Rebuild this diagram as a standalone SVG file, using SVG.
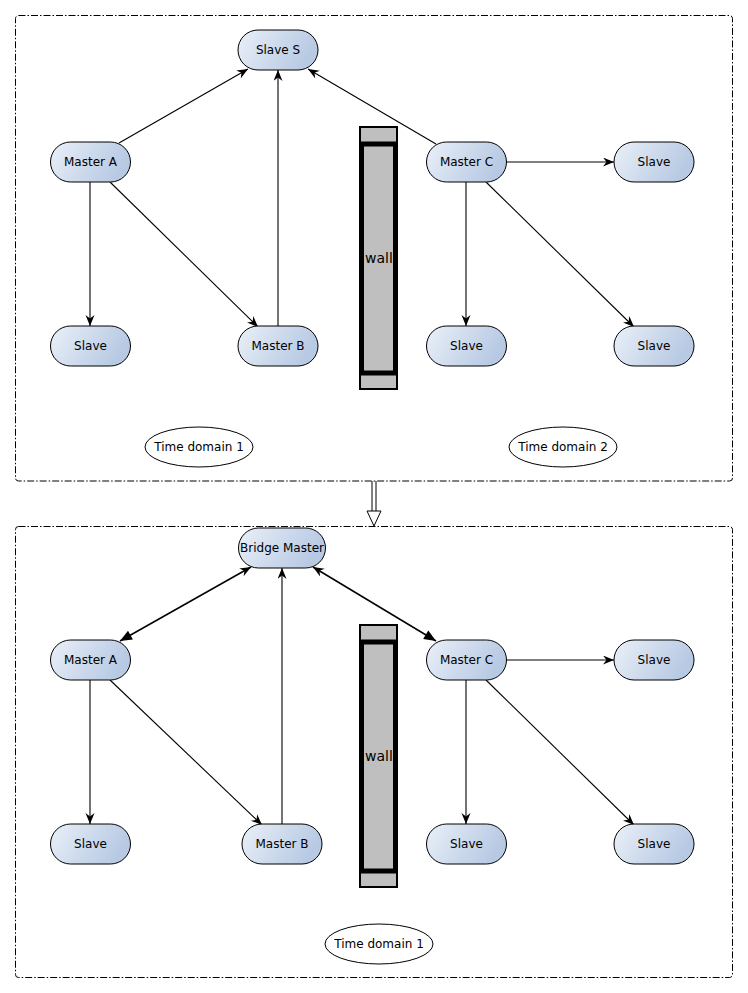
<svg xmlns="http://www.w3.org/2000/svg" width="748" height="993" viewBox="0 0 748 993">
<style>
.frame{fill:none;stroke:#000;stroke-width:1;stroke-dasharray:7,2,1.5,2}
.node rect{fill:url(#g);stroke:#000;stroke-width:1}
.node text,.dom text{font-family:"DejaVu Sans",sans-serif;font-size:12px;text-anchor:middle;dominant-baseline:central;fill:#000}
.dom ellipse{fill:#fff;stroke:#000;stroke-width:1}
.e{fill:none;stroke:#000;stroke-width:1.1;marker-end:url(#a)}
.b{fill:none;stroke:#000;stroke-width:1.5;marker-end:url(#a);marker-start:url(#t)}
.cap{fill:#bfbfbf;stroke:#000;stroke-width:2}
.wallm{fill:#bfbfbf;stroke:#000;stroke-width:5}
.wt{font-family:"DejaVu Sans",sans-serif;font-size:14px;text-anchor:middle;dominant-baseline:central;fill:#000}
</style>
<defs>
<linearGradient id="g" x1="0" y1="0" x2="1" y2="0.3">
<stop offset="0" stop-color="#eaf0f8"/>
<stop offset="1" stop-color="#b7c9e3"/>
</linearGradient>
<marker id="a" markerWidth="13" markerHeight="10" refX="11" refY="4.5" orient="auto" markerUnits="userSpaceOnUse">
<path d="M0,0 L11,4.5 L0,9 L3.5,4.5 z" fill="#000"/>
</marker>
<marker id="t" markerWidth="14" markerHeight="12" refX="0" refY="5" orient="auto" markerUnits="userSpaceOnUse">
<path d="M12,0 L0,5 L12,10 z" fill="#000"/>
</marker>
</defs>
<rect class="frame" x="15.5" y="15.5" width="717" height="465.5" rx="3"/>
<rect class="frame" x="15.5" y="526.5" width="717" height="451" rx="3"/>

<g id="connectors">
<line class="e" x1="119" y1="143" x2="248" y2="69"/>
<line class="e" x1="278" y1="326" x2="278" y2="70"/>
<line class="e" x1="436" y1="144" x2="308" y2="69"/>
<line class="e" x1="90" y1="182" x2="90" y2="326"/>
<line class="e" x1="110" y1="182" x2="258" y2="327"/>
<line class="e" x1="506" y1="162" x2="614" y2="162"/>
<line class="e" x1="466" y1="182" x2="466" y2="326"/>
<line class="e" x1="486" y1="182" x2="634" y2="327"/>

<line class="b" x1="120" y1="641" x2="251" y2="567"/>
<line class="e" x1="282" y1="824" x2="282" y2="568"/>
<line class="b" x1="436" y1="641" x2="313" y2="567"/>
<line class="e" x1="90" y1="680" x2="90" y2="824"/>
<line class="e" x1="110" y1="680" x2="262" y2="825"/>
<line class="e" x1="506" y1="660" x2="614" y2="660"/>
<line class="e" x1="466" y1="680" x2="466" y2="824"/>
<line class="e" x1="486" y1="680" x2="634" y2="825"/>

<g id="transition">
<line x1="372" y1="481" x2="372" y2="513" stroke="#000" stroke-width="1"/>
<line x1="376" y1="481" x2="376" y2="513" stroke="#000" stroke-width="1"/>
<path d="M367,511 L381,511 L374,526 z" fill="#fff" stroke="#000" stroke-width="1"/>
</g>
</g>

<g id="wall1">
<rect class="cap" x="360" y="127" width="37" height="16"/>
<rect class="cap" x="360" y="373" width="37" height="16"/>
<rect class="wallm" x="361.5" y="144" width="34" height="229"/>
<text class="wt" x="379" y="258">wall</text>
</g>
<g id="wall2">
<rect class="cap" x="360" y="625" width="37" height="16"/>
<rect class="cap" x="360" y="871" width="37" height="16"/>
<rect class="wallm" x="361.5" y="642" width="34" height="229"/>
<text class="wt" x="379" y="756">wall</text>
</g>

<g id="slaveS" class="node"><rect x="238" y="30" width="80" height="40" rx="20"/><text x="278" y="50">Slave S</text></g>
<g id="masterA1" class="node"><rect x="50.5" y="142" width="80" height="40" rx="20"/><text x="90.5" y="162">Master A</text></g>
<g id="masterC1" class="node"><rect x="426.5" y="142" width="80" height="40" rx="20"/><text x="466.5" y="162">Master C</text></g>
<g id="slave1r" class="node"><rect x="614" y="142" width="80" height="40" rx="20"/><text x="654" y="162">Slave</text></g>
<g id="slave1a" class="node"><rect x="50.5" y="326" width="80" height="40" rx="20"/><text x="90.5" y="346">Slave</text></g>
<g id="masterB1" class="node"><rect x="238" y="326" width="80" height="40" rx="20"/><text x="278" y="346">Master B</text></g>
<g id="slave1c" class="node"><rect x="426.5" y="326" width="80" height="40" rx="20"/><text x="466.5" y="346">Slave</text></g>
<g id="slave1d" class="node"><rect x="614" y="326" width="80" height="40" rx="20"/><text x="654" y="346">Slave</text></g>
<g id="dom1" class="dom"><ellipse cx="199" cy="447" rx="54" ry="20"/><text x="199" y="447">Time domain 1</text></g>
<g id="dom2" class="dom"><ellipse cx="563" cy="447" rx="54" ry="20"/><text x="563" y="447">Time domain 2</text></g>

<g id="bridge" class="node"><rect x="238.5" y="528" width="87" height="40" rx="20"/><text x="282" y="548">Bridge Master</text></g>
<g id="masterA2" class="node"><rect x="50.5" y="640" width="80" height="40" rx="20"/><text x="90.5" y="660">Master A</text></g>
<g id="masterC2" class="node"><rect x="426.5" y="640" width="80" height="40" rx="20"/><text x="466.5" y="660">Master C</text></g>
<g id="slave2r" class="node"><rect x="614" y="640" width="80" height="40" rx="20"/><text x="654" y="660">Slave</text></g>
<g id="slave2a" class="node"><rect x="50.5" y="824" width="80" height="40" rx="20"/><text x="90.5" y="844">Slave</text></g>
<g id="masterB2" class="node"><rect x="242" y="824" width="80" height="40" rx="20"/><text x="282" y="844">Master B</text></g>
<g id="slave2c" class="node"><rect x="426.5" y="824" width="80" height="40" rx="20"/><text x="466.5" y="844">Slave</text></g>
<g id="slave2d" class="node"><rect x="614" y="824" width="80" height="40" rx="20"/><text x="654" y="844">Slave</text></g>
<g id="dom3" class="dom"><ellipse cx="379" cy="944" rx="54" ry="20"/><text x="379" y="944">Time domain 1</text></g>
</svg>
